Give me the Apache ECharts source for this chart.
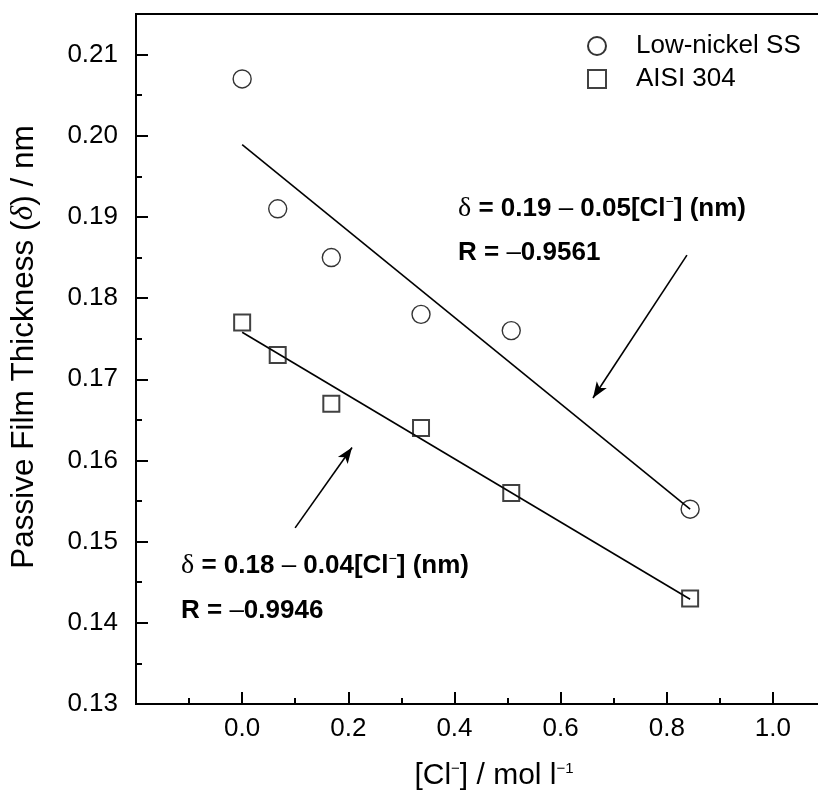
<!DOCTYPE html>
<html>
<head>
<meta charset="utf-8">
<script src="https://cdn.jsdelivr.net/npm/echarts@6/dist/echarts.min.js"></script>
<style>
html,body{margin:0;padding:0;background:#fff;}
#chart{width:818px;height:796px;}
</style>
</head>
<body>
<div id="chart"></div>
<script>
// ---- data ----
const clConc = [0, 0.067, 0.168, 0.337, 0.507, 0.844];
const lowNickel = [0.207, 0.191, 0.185, 0.178, 0.176, 0.154];
const aisi304 = [0.177, 0.173, 0.167, 0.164, 0.156, 0.143];
const fitX = [0, 0.844];
const fitLowNickel = [0.1989, 0.154];
const fitAisi304 = [0.1758, 0.1429];
const arrowUpper = [[0.838, 0.1853], [0.661, 0.1677]];
const arrowLower = [[0.0998, 0.1517], [0.207, 0.1616]];
const seriesNames = ['Low-nickel SS', 'AISI 304'];
const xRange = [-0.2, 1.1];
const yRange = [0.13, 0.215];

const pairs = (xs, ys) => xs.map((x, i) => [x, ys[i]]);
const FONT = 'Liberation Sans, Arial, sans-serif';
const SQUARE = 'path://M0,0L10,0L10,10L0,10Z';

const chart = echarts.init(document.getElementById('chart'), null, {renderer: 'canvas'});

const gridBox = {left: 136, top: 14, width: 690, height: 690, outerBoundsMode: 'none', containLabel: false};

const option = {
  animation: false,
  backgroundColor: '#fff',
  grid: [
    Object.assign({show: true, borderColor: '#000', borderWidth: 2, backgroundColor: 'transparent'}, gridBox),
    Object.assign({show: false}, gridBox)
  ],
  legend: {
    orient: 'vertical',
    left: 582,
    top: 28,
    itemWidth: 68,
    itemHeight: 18,
    itemGap: 7,
    symbolKeepAspect: true,
    textStyle: {fontFamily: FONT, fontSize: 26, color: '#000', lineHeight: 26},
    data: [{name: seriesNames[0], icon: 'circle'}, {name: seriesNames[1], icon: SQUARE}],
    selectedMode: false
  },
  xAxis: [
    {
      type: 'value', gridIndex: 0, min: xRange[0], max: xRange[1], interval: 0.2,
      name: '[Cl{sup|−}] / mol l{sup|−1}',
      nameLocation: 'middle', nameGap: 57,
      nameTextStyle: {
        fontFamily: FONT, fontSize: 30, color: '#000', padding: [0, 0, 0, 26],
        rich: {sup: {fontFamily: FONT, fontSize: 15, color: '#000', verticalAlign: 'top', lineHeight: 14}}
      },
      axisLine: {show: true, onZero: false, lineStyle: {color: '#000', width: 2}},
      axisTick: {show: true, inside: true, length: 12, lineStyle: {color: '#000', width: 2}},
      axisLabel: {
        show: true, margin: 12, fontFamily: FONT, fontSize: 26, color: '#000',
        showMinLabel: false, showMaxLabel: false,
        formatter: v => v.toFixed(1)
      },
      splitLine: {show: false}
    },
    {
      type: 'value', gridIndex: 1, min: xRange[0], max: xRange[1], interval: 0.1,
      axisLine: {show: false, onZero: false},
      axisTick: {show: true, inside: true, length: 6, lineStyle: {color: '#000', width: 2}},
      axisLabel: {show: false},
      splitLine: {show: false}
    }
  ],
  yAxis: [
    {
      type: 'value', gridIndex: 0, min: yRange[0], max: yRange[1], interval: 0.01,
      name: 'Passive Film Thickness ({i|δ}) / nm',
      nameLocation: 'middle', nameGap: 96,
      nameTextStyle: {
        fontFamily: FONT, fontSize: 31.5, color: '#000', padding: [0, 0, 0, 24],
        rich: {i: {fontFamily: 'Liberation Serif, serif', fontStyle: 'italic', fontSize: 31.5, color: '#000'}}
      },
      axisLine: {show: true, onZero: false, lineStyle: {color: '#000', width: 2}},
      axisTick: {show: true, inside: true, length: 12, lineStyle: {color: '#000', width: 2}},
      axisLabel: {
        show: true, margin: 18, fontFamily: FONT, fontSize: 26, color: '#000',
        showMinLabel: true, showMaxLabel: false,
        formatter: v => v.toFixed(2)
      },
      splitLine: {show: false}
    },
    {
      type: 'value', gridIndex: 1, min: yRange[0], max: yRange[1], interval: 0.005,
      axisLine: {show: false, onZero: false},
      axisTick: {show: true, inside: true, length: 6, lineStyle: {color: '#000', width: 2}},
      axisLabel: {show: false},
      splitLine: {show: false}
    }
  ],
  series: [
    {
      name: 'fit-low-nickel', type: 'line', xAxisIndex: 0, yAxisIndex: 0,
      data: pairs(fitX, fitLowNickel), symbol: 'none', silent: true,
      lineStyle: {color: '#000', width: 1.6}, z: 2,
      markLine: {
        silent: true, symbol: ['none', 'arrow'], symbolSize: [9, 16],
        lineStyle: {color: '#000', width: 1.6, type: 'solid'}, label: {show: false},
        data: [[{coord: arrowUpper[0]}, {coord: arrowUpper[1]}]]
      }
    },
    {
      name: 'fit-aisi', type: 'line', xAxisIndex: 0, yAxisIndex: 0,
      data: pairs(fitX, fitAisi304), symbol: 'none', silent: true,
      lineStyle: {color: '#000', width: 1.6}, z: 2,
      markLine: {
        silent: true, symbol: ['none', 'arrow'], symbolSize: [9, 16],
        lineStyle: {color: '#000', width: 1.6, type: 'solid'}, label: {show: false},
        data: [[{coord: arrowLower[0]}, {coord: arrowLower[1]}]]
      }
    },
    {
      name: seriesNames[0], type: 'scatter', xAxisIndex: 0, yAxisIndex: 0,
      data: pairs(clConc, lowNickel), symbol: 'circle', symbolSize: 18,
      itemStyle: {color: 'rgba(255,255,255,0)', borderColor: '#000', borderWidth: 1.4}, z: 3
    },
    {
      name: seriesNames[1], type: 'scatter', xAxisIndex: 0, yAxisIndex: 0,
      data: pairs(clConc, aisi304), symbol: 'rect', symbolSize: 16,
      itemStyle: {color: 'rgba(255,255,255,0)', borderColor: '#111', borderWidth: 2}, z: 3
    }
  ],
  graphic: [
    {
      type: 'text', left: 458, top: 195, silent: true,
      style: {
        text: '{d|δ} = 0.19 {n|–} 0.05[Cl{s|−}] (nm)',
        font: 'bold 26px ' + FONT, fill: '#000',
        rich: {
          d: {fontFamily: 'Liberation Serif, serif', fontSize: 28, fontWeight: 'normal', fill: '#000'},
          n: {fontFamily: FONT, fontSize: 26, fontWeight: 'normal', fill: '#000'},
          s: {fontFamily: FONT, fontSize: 14, fontWeight: 'normal', fill: '#000', verticalAlign: 'top', lineHeight: 12}
        }
      }
    },
    {
      type: 'text', left: 458, top: 240, silent: true,
      style: {
        text: 'R = {n|–}0.9561', font: 'bold 26px ' + FONT, fill: '#000',
        rich: {n: {fontFamily: FONT, fontSize: 26, fontWeight: 'normal', fill: '#000'}}
      }
    },
    {
      type: 'text', left: 181, top: 552, silent: true,
      style: {
        text: '{d|δ} = 0.18 {n|–} 0.04[Cl{s|−}] (nm)',
        font: 'bold 26px ' + FONT, fill: '#000',
        rich: {
          d: {fontFamily: 'Liberation Serif, serif', fontSize: 28, fontWeight: 'normal', fill: '#000'},
          n: {fontFamily: FONT, fontSize: 26, fontWeight: 'normal', fill: '#000'},
          s: {fontFamily: FONT, fontSize: 14, fontWeight: 'normal', fill: '#000', verticalAlign: 'top', lineHeight: 12}
        }
      }
    },
    {
      type: 'text', left: 181, top: 598, silent: true,
      style: {
        text: 'R = {n|–}0.9946', font: 'bold 26px ' + FONT, fill: '#000',
        rich: {n: {fontFamily: FONT, fontSize: 26, fontWeight: 'normal', fill: '#000'}}
      }
    }
  ]
};

chart.setOption(option);
</script>
</body>
</html>
